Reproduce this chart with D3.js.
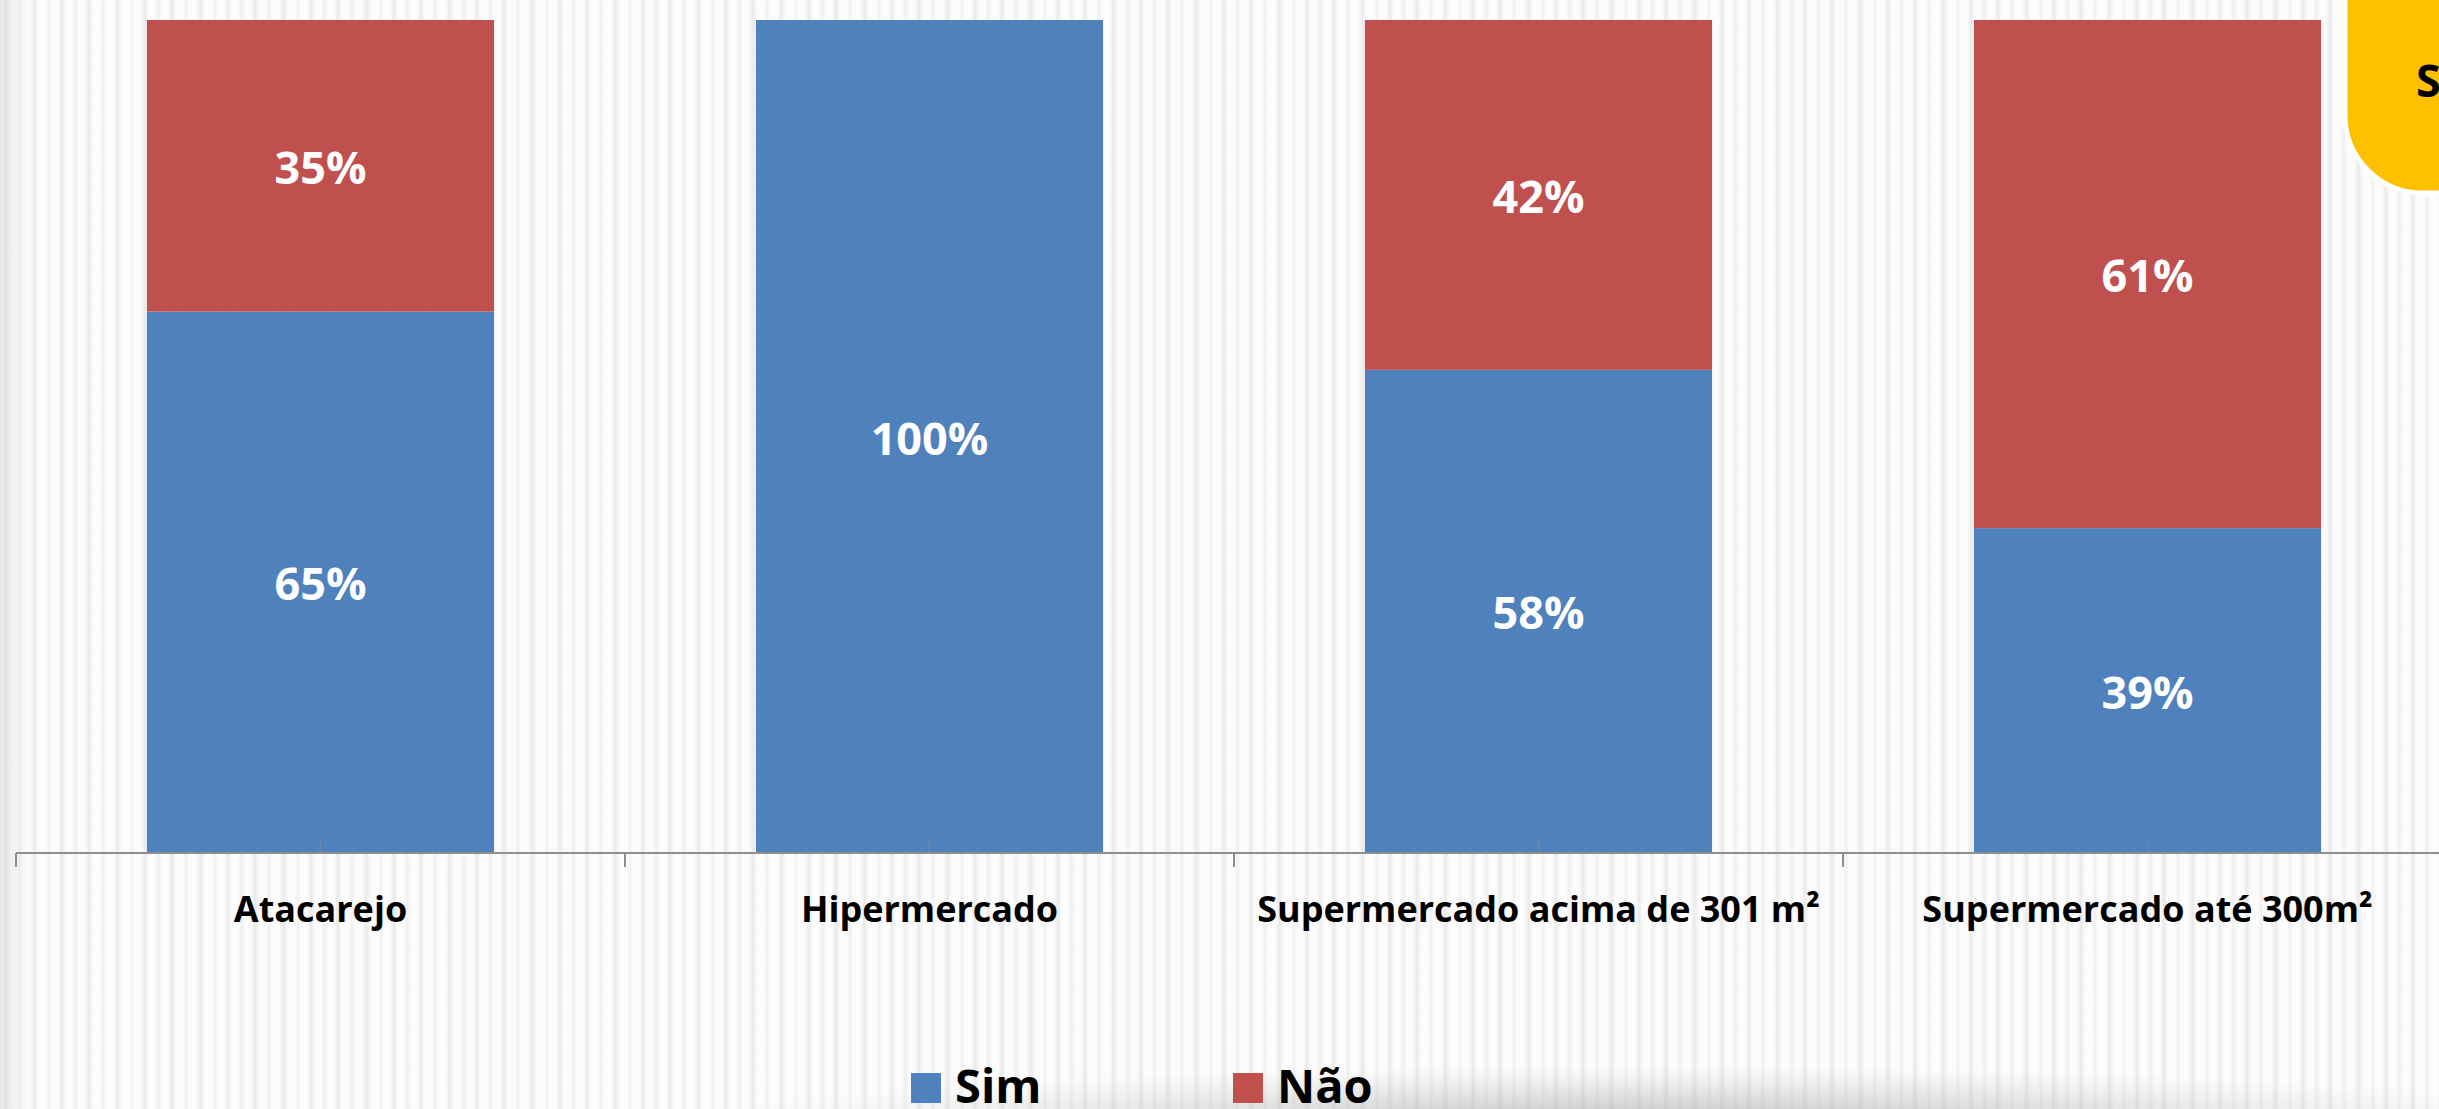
<!DOCTYPE html>
<html>
<head>
<meta charset="utf-8">
<script src="https://cdn.jsdelivr.net/npm/d3@7"></script>
<style>
  html, body { margin: 0; padding: 0; background: #ffffff; overflow: hidden; }
  svg { display: block; font-family: "Open Sans", "Noto Sans", sans-serif; }
</style>
</head>
<body>
<svg id="chart" width="2439" height="1109"></svg>
<script>
const categories = ["Atacarejo", "Hipermercado", "Supermercado acima de 301 m²", "Supermercado até 300m²"];
const seriesNames = ["Sim", "Não"];
const simValues = [65, 100, 58, 39];
const naoValues = [35, 0, 42, 61];
const colors = ["#4F81BD", "#C0504D"];

const W = 2439, H = 1109;
const svg = d3.select("#chart");
const defs = svg.append("defs");

// soft stripe gradient
const sg = defs.append("linearGradient").attr("id", "stripeGrad").attr("x1", 0).attr("x2", 1);
sg.append("stop").attr("offset", 0).attr("stop-color", "#ebebeb").attr("stop-opacity", 0);
sg.append("stop").attr("offset", 0.5).attr("stop-color", "#e6e6e6").attr("stop-opacity", 1);
sg.append("stop").attr("offset", 1).attr("stop-color", "#ebebeb").attr("stop-opacity", 0);

// background stripes pattern
const pat = defs.append("pattern").attr("id", "stripes").attr("patternUnits", "userSpaceOnUse")
  .attr("width", 83).attr("height", 10);
pat.append("rect").attr("width", 83).attr("height", 10).attr("fill", "#fcfcfc");
[[2, 8, 0.9], [17, 6, 0.6], [30, 9, 0.8], [46, 6, 0.55], [58, 8, 0.85], [72, 7, 0.6]]
  .forEach(([x, w, o]) => pat.append("rect").attr("x", x).attr("width", w).attr("height", 10)
    .attr("fill", "url(#stripeGrad)").attr("opacity", o));
svg.append("rect").attr("width", W).attr("height", H).attr("fill", "url(#stripes)");

// left edge subtle shade
const lg = defs.append("linearGradient").attr("id", "leftShade").attr("x1", 0).attr("x2", 1);
lg.append("stop").attr("offset", 0).attr("stop-color", "#d8d8d8").attr("stop-opacity", 0.6);
lg.append("stop").attr("offset", 1).attr("stop-color", "#d8d8d8").attr("stop-opacity", 0);
svg.append("rect").attr("x", 0).attr("y", 0).attr("width", 30).attr("height", H).attr("fill", "url(#leftShade)");

// bottom shadow
const rg = defs.append("radialGradient").attr("id", "bottomShadow");
rg.append("stop").attr("offset", 0).attr("stop-color", "#a0a0a0").attr("stop-opacity", 0.7);
rg.append("stop").attr("offset", 0.6).attr("stop-color", "#b8b8b8").attr("stop-opacity", 0.3);
rg.append("stop").attr("offset", 1).attr("stop-color", "#cccccc").attr("stop-opacity", 0);
svg.append("ellipse").attr("cx", 1650).attr("cy", 1125).attr("rx", 950).attr("ry", 60).attr("fill", "url(#bottomShadow)");

// scales
const x = d3.scaleBand().domain(categories).range([16, 16 + 609 * 4]).paddingInner(0.43).paddingOuter(0.215);
const y = d3.scaleLinear().domain([0, 100]).range([853, 20]);

const rows = categories.map((c, i) => ({ cat: c, Sim: simValues[i], "Não": naoValues[i] }));
const stack = d3.stack().keys(seriesNames)(rows);

const g = svg.append("g");
stack.forEach((s, si) => {
  g.selectAll(null).data(s).enter().append("rect")
    .attr("x", d => x(d.data.cat))
    .attr("y", d => y(d[1]))
    .attr("width", x.bandwidth())
    .attr("height", d => y(d[0]) - y(d[1]))
    .attr("fill", colors[si]);
});

// value labels
stack.forEach((s, si) => {
  g.selectAll(null).data(s.filter(d => d[1] - d[0] > 0)).enter().append("text")
    .attr("x", d => x(d.data.cat) + x.bandwidth() / 2)
    .attr("y", d => (y(d[0]) + y(d[1])) / 2)
    .attr("dy", "0.4em")
    .attr("text-anchor", "middle")
    .attr("fill", "#ffffff")
    .attr("font-weight", 700)
    .attr("font-size", 45)
    .text(d => (d[1] - d[0]) + "%");
});

// axis
const axisG = svg.append("g");
const step = x.step();
const x0 = x.range()[0];
axisG.append("line").attr("x1", x0).attr("x2", W).attr("y1", y(0)).attr("y2", y(0))
  .attr("stroke", "#8e8e8e").attr("stroke-width", 2);
d3.range(categories.length + 1).forEach(i => {
  axisG.append("line").attr("x1", x0 + i * step).attr("x2", x0 + i * step)
    .attr("y1", y(0)).attr("y2", y(0) + 14).attr("stroke", "#8e8e8e").attr("stroke-width", 2);
});
categories.forEach(c => {
  axisG.append("line").attr("x1", x(c) + x.bandwidth() / 2).attr("x2", x(c) + x.bandwidth() / 2)
    .attr("y1", y(0)).attr("y2", y(0) - 12).attr("stroke", "#8e8e8e").attr("stroke-opacity", 0.6).attr("stroke-width", 1.5);
});
axisG.selectAll(null).data(categories).enter().append("text")
  .attr("x", d => x(d) + x.bandwidth() / 2)
  .attr("y", 922)
  .attr("text-anchor", "middle")
  .attr("font-weight", 700)
  .attr("font-size", 36)
  .attr("fill", "#000000")
  .text(d => d);

// legend
const legendX = [911, 1233];
const leg = svg.append("g");
seriesNames.forEach((n, i) => {
  leg.append("rect").attr("x", legendX[i]).attr("y", 1073).attr("width", 30).attr("height", 30).attr("fill", colors[i]);
  leg.append("text").attr("x", legendX[i] + 44).attr("y", 1103)
    .attr("font-weight", 700).attr("font-size", 47).attr("fill", "#000").text(n);
});

// yellow box top-right
svg.append("rect").attr("x", 2345).attr("y", -100).attr("width", 200).attr("height", 293)
  .attr("rx", 78).attr("ry", 78).attr("fill", "#FFC000").attr("stroke", "#ffffff").attr("stroke-width", 5);
svg.append("text").attr("x", 2416).attr("y", 97).attr("font-weight", 700).attr("font-size", 45)
  .attr("fill", "#000").text("S");
</script>
</body>
</html>
